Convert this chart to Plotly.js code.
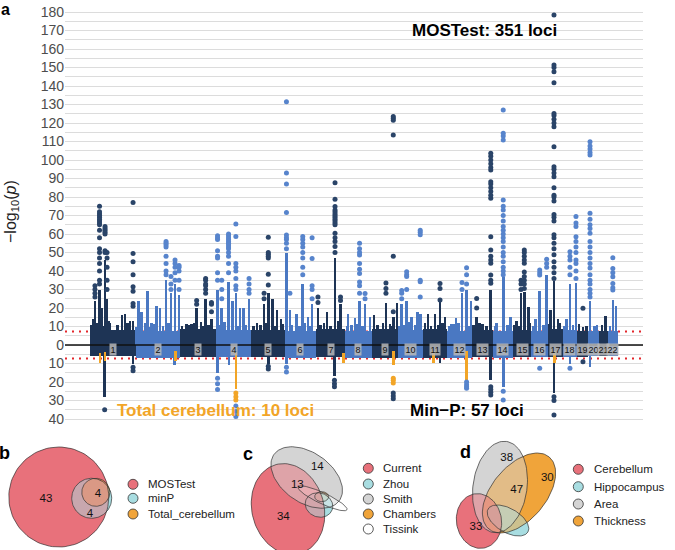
<!DOCTYPE html>
<html><head><meta charset="utf-8">
<script src="https://cdn.plot.ly/plotly-3.0.1.min.js"></script>
<style>html,body{margin:0;padding:0;background:#fff}</style>
</head><body><div id="chart" style="width:675px;height:550px"></div>
<script>
// ---------------- DATA ----------------
const chrNames = ['1','2','3','4','5','6','7','8','9','10','11','12','13','14','15','16','17','18','19','20','21','22'];
const chrLen = [249,243,198,191,181,171,159,146,141,136,135,134,115,107,103,90,81,78,59,63,48,51];
// dense background band (-log10 p) above (MOSTest) and below (min-P)
const bandUp   = [8,7.5,8.5,8,8,7.5,8.5,7.5,8.5,8,8.5,7.5,8,7.5,8,7.5,8.5,8,7.5,7.5,7.5,7.5];
const bandDown = [6,7,6.5,6.5,6.5,7,6.5,7,7,7,7,7,6.5,7,6.5,6.5,6.5,6.5,6.5,6,6,6];

// MOSTest dense columns: chromosome, position (Mb), top of dense part
const upColChr = [1,1,1,1,1,1,1,1,1,1,1, 2,2,2,2,2,2,2,2,2,2, 3,3,3,3,3,3, 4,4,4,4,4,4,4,4, 5,5,5,5,5,5, 6,6,6,6,6,6, 7,7,7,7, 8,8,8,8,8, 9,9,9,9,9, 10,10,10,10,10, 11,11,11,11, 12,12,12,12,12, 13,13,13, 14,14,14, 15,15,15,15, 16,16,16, 17,17,17, 18,18,18, 19, 20, 21, 22,22];
const upColPos = [16,27,52,63,82,93,109,175,191,218,235, 15,33,65,87,115,133,166,193,215,237, 34,63,90,114,139,171, 6,29,66,88,106,129,147,178, 31,69,92,115,140,162, 10,29,65,99,128,150, 11,60,104,134, 17,54,79,109,136, 12,77,99,117,138, 22,49,76,108,123, 29,68,95,122, 20,47,80,105,129, 26,58,103, 20,56,95, 22,46,64,86, 22,45,83, 15,33,56, 21,39,72, 32, 11.5, 33, 25,43];
const upColTop = [14,24,30,20,46,25,12,16,17,13,13, 24,18,29,12,21,20,35,28,33,27, 11.5,11.5,20,12.5,25,14, 30,20,34,24,28,20,20,25, 12,22,28,25,19,14, 49.5,19,17,33,15,22, 20,18,47,22, 17,14.4,24,22,15, 16,22.5,11.5,15,22.5, 22,24,15.3,18,17, 17,17,23.4,15, 11.5,14.4,28,30,24, 15,11.5,29.7, 12,37,15.3, 13,28,28.8,20.7, 14,29,38, 19,34.6,14, 14,33,33.5, 10, 24, 15.7, 24.3,21];

// extra low spikes that make the ragged top of the band (chromosome, position Mb, height)
const lowSpkChr = [1,1,1,1,1,1, 2,2,2,2,2,2,2, 3,3,3,3,3, 4,4,4,4, 5,5,5,5,5, 6,6,6,6, 7,7,7,7, 8,8,8,8, 9,9,9, 10,10,10,10, 11,11,11,11, 12,12,12,12, 13,13,13, 14,14, 15,15,15, 16,16, 17,17, 18,18, 19,19, 20,20, 21, 22];
const lowSpkPos = [5,40,70,100,150,205, 5,25,50,75,100,150,180, 10,50,75,125,155, 20,45,120,160, 10,50,80,125,170, 40,80,110,140, 25,45,80,120, 10,35,65,95, 30,60,105, 8,35,65,95, 12,45,85,110, 10,35,60,118, 10,40,80, 10,80, 10,35,95, 10,65, 5,65, 10,55, 10,50, 35,50, 15, 10];
const lowSpkTop = [11,12,10.5,13,11,12, 10,11,12,10,11.5,10.5,12, 10.5,11,12,10.5,11, 11,12.5,10.5,11, 10.5,11,12,10.5,11.5, 11,10.5,12,10.5, 11,12,10.5,13, 10.5,11,11.5,10.5, 11,12,10.5, 10.5,11,12.5,11, 12,10.5,11,12, 10.5,11.5,12,10.5, 11,12,10.5, 10.5,11, 11,10.5,12, 10.5,11, 11.5,12, 10.5,11, 11.5,10.5, 10.5,11, 11, 10.5];

// MOSTest sparse hits: chromosome, position (Mb), list of -log10 p values
const upHitChr = [1,1,1,1,1, 2,2,2,2, 3,3,3, 4,4,4,4,4, 5,5, 6,6,6,6, 7,7,7, 8,8, 9,9, 10,10,10, 11, 12,12, 13,13, 14, 15,15, 16,16, 17, 18,18, 19, 20, 22];
const upHitPos = [27,52,82,93,235, 166,193,215,237, 90,139,171, 6,29,66,106,178, 69,92, 10,29,99,150, 11,104,134, 79,109, 77,117, 22,49,123, 95, 80,105, 26,103, 56, 46,64, 45,83, 33, 39,72, 32, 11.5, 25];
const upHitVals = [
  [26,28,30,32],
  [33,35,40,44,47,50,52,58,62,65,66,67,68,69,70,71,72,75],
  [50,51,60,61,62,63,64],
  [30,35,42,47,50],
  [21,22.5,29,31.5,38,45,49.5,77],
  [38,40,44,48,53,54,55,56],
  [30,33,37],
  [35,39,42,44,46],
  [30,35,40,42,43],
  [22,24],
  [28,30,32,33,35,36],
  [18,22,23],
  [35,39,47,48,51,57,58,59],
  [25,30,35],
  [39,44,48,50,52,53,54,55,56,57,58,59,60],
  [30,32,36,40,42,44,58.6,65.4],
  [28,30,33,36],
  [25,28],
  [32.4,38.3,47,48,49,50,58.2],
  [52,55,57,58,59.5,71.6,87,93,131.5],
  [28],
  [38,42,47,50,53,55,57,58.6],
  [25,30,32,46.7,58],
  [23,26],
  [50,53.2,56,58,60.4,65,66,67,68,69,70,71,72,73,74.9,78.8,87.7],
  [24,26],
  [28,32,34,38.7,41,44,48.6,50,52,55],
  [25,27.9],
  [28,30.5,33.5],
  [18,48,113.5,121.5,122.5,123.5],
  [25,28,29.5],
  [30,37,38,39.6],
  [26,34.2,35,59.6,61,62],
  [24.3,30.6,33.3],
  [30,33.8],
  [33,38,41.8],
  [20,25.2],
  [33.4,35,37.8,44.2,46,48,51.4,58.5,79.3,81,83,85,87,88.3,94.6,96,98,100,102,103.6],
  [38,40,42,45,48,50,53,56,58,60,62,64,67,70,73,75,78.4,110.8,113,114.4,127],
  [30,33,35],
  [30.6,33,35,37,39.5,44.2,46,48,50,51.4],
  [37.8,39,40.5],
  [42,44,46.3],
  [36,39,42,45,48.8,52,55,58,59.6,67,69,70.5,77.8,80,81,85,91,93,95,96.4,107.2,118,120,122,124,125.2,141.8,147.7,150,151.4,178.4],
  [38,42,46,48,50.4],
  [36,40,44,46,50,53,56,58.5,64,66,69.4],
  [19.8],
  [26,28,30,33,35,38,41.6,44,47,50,53,56,60.4,63,65,68,71.2,102.7,104,106,107.5,109.9],
  [29.7,31,33.3,36.9,39,41.4,47.2]
];

// Min-P dense columns (depth below zero)
const dnColChr = [1,1,2,4,4,5,6,7,11,13,14,17,18,20];
const dnColPos = [80,235,211,6,69,92,10,101,95,103,56,33,39,11.5];
const dnColDepth = [28,10,11,15,11,10,10,17,9.7,19,22.5,26,10,11.7];
// Min-P sparse hits
const dnHitChr = [1,1,4,4,5,6,7,9,12,13,14,16,17,18,19];
const dnHitPos = [80,235,6,106,92,10,101,117,105,103,56,45,33,39,32];
const dnHitVals = [[35],[12,13.9],[18,21,24],[33,36,38.7],[11.5,13],[12,14.6],[19,21,22.5],[26,27.5,29],[20,21.5,22.5,23.4],[22.5,24,25.5,27],[25,29.7],[12.6],[28,30,37.8],[12.6],[9]];

// Total cerebellum loci (orange, drawn on the Min-P side)
const cbChr  = [1,1,2,4,7,9,11,12,17];
const cbPos  = [55,82,218,106,150,117,59,105,36];
const cbFrom = [4.5,3.6,3.5,3.6,4.5,3,3.5,3,3];
const cbTo   = [9.7,8.6,8.6,24,9.7,10.8,9.7,19,9.9];
const cbHitChr = [4,9];
const cbHitPos = [106,117];
const cbHitVals = [[26,28,29.7],[18,19,20.5]];

const gwThreshold = -Math.log10(5e-8);
const yTickVals = [-40,-35,-30,-25,-20,-15,-10,-5,0,5,10,15,20,25,30,35,40,45,50,55,60,65,70,75,80,85,90,95,100,105,110,115,120,125,130,135,140,145,150,155,160,165,170,175,180];

// Venn data
const vennBSets = ['MOSTest','minP','Total_cerebellum'];
const vennBCounts = [43,4,4];
const vennCSets = ['Current','Zhou','Smith','Chambers','Tissink'];
const vennCCounts = [34,13,14];
const vennDSets = ['Cerebellum','Hippocampus','Area','Thickness'];
const vennDCounts = [33,38,47,30];

// ---------------- STYLE / LAYOUT ----------------
const DARK = '#1e3455', LIGHT = '#4a78c2', CB = '#f2a527';
const DARKDOT = '#2a4468', LIGHTDOT = '#5784cc';
const RED = '#E8717B', CYAN = '#A8DDE1', GREY = '#D4D4D4', VOR = '#F0A43A', WHITE = '#FFFFFF';
const FONT = 'Liberation Sans, Arial, sans-serif';
const W = 675, H = 550;
const px = x => x / W, py = y => 1 - y / H;

const chrStart = []; let acc = 0; chrLen.forEach(l => { chrStart.push(acc); acc += l; });
const gx = (c, p) => chrStart[c - 1] + p;
const cCol = c => (c % 2 === 1 ? DARK : LIGHT);
const cDot = c => (c % 2 === 1 ? DARKDOT : LIGHTDOT);
const XR = [-136.4, 3017.7];

const traces = [];
// band
traces.push({type:'bar', x: chrLen.map((l,i)=>chrStart[i]+l/2), y: chrLen.map((l,i)=>bandUp[i]+bandDown[i]),
  base: bandDown.map(v=>-v), width: chrLen.slice(), marker:{color: chrLen.map((l,i)=>cCol(i+1)), line:{width:0}},
  hoverinfo:'skip', showlegend:false});
// low spikes (ragged band edge)
traces.push({type:'bar', x: lowSpkChr.map((c,i)=>gx(c,lowSpkPos[i])), y: lowSpkTop.slice(), base: lowSpkTop.map(()=>0),
  width: lowSpkTop.map(()=>14), marker:{color: lowSpkChr.map(cCol), line:{width:0}}, hoverinfo:'skip', showlegend:false});
// up columns
traces.push({type:'bar', x: upColChr.map((c,i)=>gx(c,upColPos[i])), y: upColTop.slice(), base: upColTop.map(()=>0),
  width: upColTop.map(()=>14), marker:{color: upColChr.map(cCol), line:{width:0}}, hoverinfo:'skip', showlegend:false});
// down columns
traces.push({type:'bar', x: dnColChr.map((c,i)=>gx(c,dnColPos[i])), y: dnColDepth.map(v=>-v), base: dnColDepth.map(()=>0),
  width: dnColDepth.map(()=>14), marker:{color: dnColChr.map(cCol), line:{width:0}}, hoverinfo:'skip', showlegend:false});
// hits
const hx=[], hy=[], hc=[];
upHitChr.forEach((c,i)=>upHitVals[i].forEach(v=>{hx.push(gx(c,upHitPos[i])); hy.push(v); hc.push(cDot(c));}));
dnHitChr.forEach((c,i)=>dnHitVals[i].forEach(v=>{hx.push(gx(c,dnHitPos[i])); hy.push(-v); hc.push(cDot(c));}));
traces.push({type:'scatter', mode:'markers', x:hx, y:hy, marker:{size:5, color:hc, line:{width:0}}, hoverinfo:'skip', showlegend:false, cliponaxis:false});
// cerebellum
traces.push({type:'bar', x: cbChr.map((c,i)=>gx(c,cbPos[i])), y: cbTo.map((t,i)=>-(t-cbFrom[i])), base: cbFrom.map(v=>-v),
  width: cbChr.map(()=>14), marker:{color: CB, line:{width:0}}, hoverinfo:'skip', showlegend:false});
const ox=[], oy=[];
cbHitChr.forEach((c,i)=>cbHitVals[i].forEach(v=>{ox.push(gx(c,cbHitPos[i])); oy.push(-v);}));
traces.push({type:'scatter', mode:'markers', x:ox, y:oy, marker:{size:5, color:CB}, hoverinfo:'skip', showlegend:false});
// zero line on top
traces.push({type:'scatter', mode:'lines', x:XR, y:[0,0], line:{color:'#111', width:1.6}, hoverinfo:'skip', showlegend:false});

// ---- Venn geometry (pixel coordinates) ----
function ellPts(e){ const xs=[], ys=[]; const th=e.t*Math.PI/180;
  for(let k=0;k<=100;k++){ const t=2*Math.PI*k/100;
    xs.push(e.cx + e.a*Math.cos(t)*Math.cos(th) - e.b*Math.sin(t)*Math.sin(th));
    ys.push(e.cy + e.a*Math.cos(t)*Math.sin(th) + e.b*Math.sin(t)*Math.cos(th)); }
  return [xs,ys]; }
function hexA(h,a){ const r=parseInt(h.slice(1,3),16), g=parseInt(h.slice(3,5),16), b=parseInt(h.slice(5,7),16); return `rgba(${r},${g},${b},${a})`; }
function venn(ells, cols){
  const pts = ells.map(ellPts);
  pts.forEach((p,i)=>traces.push({type:'scatter', mode:'lines', x:p[0], y:p[1], fill:'toself', fillcolor:cols[i], line:{width:0}, xaxis:'x2', yaxis:'y2', hoverinfo:'skip', showlegend:false}));
  for(let i=pts.length-1;i>=0;i--) traces.push({type:'scatter', mode:'lines', x:pts[i][0], y:pts[i][1], fill:'toself', fillcolor:hexA(cols[i],0.5), line:{width:0}, xaxis:'x2', yaxis:'y2', hoverinfo:'skip', showlegend:false});
  pts.forEach(p=>traces.push({type:'scatter', mode:'lines', x:p[0], y:p[1], line:{width:0.7, color:'#333'}, xaxis:'x2', yaxis:'y2', hoverinfo:'skip', showlegend:false}));
}
const geoB = [{cx:58.8,cy:497,a:50,b:50,t:0},{cx:91.7,cy:498.3,a:20,b:20,t:0},{cx:95.8,cy:492.3,a:14,b:14,t:0}];
const geoC = [{cx:288,cy:509,a:36,b:46,t:-15},{cx:319,cy:505,a:14,b:12,t:20},{cx:306.7,cy:477.5,a:40,b:25,t:35},{cx:321.7,cy:496.7,a:7,b:5,t:0},{cx:322.5,cy:498.3,a:27,b:5.5,t:25}];
const geoD = [{cx:479,cy:521,a:22.5,b:27.5,t:-10},{cx:508,cy:520.5,a:23,b:12,t:30},{cx:500,cy:487,a:27,b:46,t:8},{cx:519,cy:493,a:47,b:27,t:-50}];
venn(geoB, [RED,CYAN,VOR]);
venn(geoC, [RED,CYAN,GREY,VOR,WHITE]);
venn(geoD, [RED,CYAN,GREY,VOR]);
// counts
const cntPosB = [[46,499.5],[98,494],[90,514]];
const cntPosC = [[283.3,517.3],[297.3,485],[317.3,467.3]];
const cntPosD = [[476,526.7],[506.7,457.7],[516.7,490],[547.3,478.3]];
const cx=[], cy=[], ct=[];
[[cntPosB,vennBCounts],[cntPosC,vennCCounts],[cntPosD,vennDCounts]].forEach(([pp,cc])=>cc.forEach((v,i)=>{cx.push(pp[i][0]); cy.push(pp[i][1]); ct.push(String(v));}));
traces.push({type:'scatter', mode:'text', x:cx, y:cy, text:ct, textposition:'middle center', textfont:{family:FONT,size:11.5,color:'#111'}, xaxis:'x2', yaxis:'y2', hoverinfo:'skip', showlegend:false});
// legends
const legs = [
  {sets:vennBSets, cols:[RED,CYAN,VOR], mx:133, tx:146, ys:[484.3,498.3,514]},
  {sets:vennCSets, cols:[RED,CYAN,GREY,VOR,WHITE], mx:368.3, tx:380.5, ys:[468.3,484,499,514,529]},
  {sets:vennDSets, cols:[RED,CYAN,GREY,VOR], mx:578.3, tx:592, ys:[469.3,486.7,504,521]}
];
const annotations = [];
legs.forEach(L=>{
  traces.push({type:'scatter', mode:'markers', x:L.ys.map(()=>L.mx), y:L.ys.slice(), marker:{size:10, color:L.cols, line:{width:0.8,color:'#333'}}, xaxis:'x2', yaxis:'y2', hoverinfo:'skip', showlegend:false, cliponaxis:false});
  L.sets.forEach((s,i)=>annotations.push({xref:'paper', yref:'paper', x:px(L.tx), y:py(L.ys[i]), xanchor:'left', yanchor:'middle', text:s, showarrow:false, font:{family:FONT,size:11.5,color:'#222'}}));
});

// chromosome labels
chrNames.forEach((n,i)=>annotations.push({xref:'x', yref:'y', x:chrStart[i]+chrLen[i]/2, y:-2.2, text:n, showarrow:false,
  font:{family:FONT,size:9,color:'#111'}, bgcolor:'rgba(185,185,185,0.85)', borderpad:0.5, xanchor:'center', yanchor:'middle'}));
// titles
const ann = (x,y,t,f,extra) => annotations.push(Object.assign({xref:'paper', yref:'paper', x:px(x), y:py(y), text:t, showarrow:false, xanchor:'center', yanchor:'middle', font:f}, extra||{}));
ann(484, 30, '<b>MOSTest: 351 loci</b>', {family:FONT,size:17,color:'#000'});
ann(467.5, 410, '<b>Min\u2212P: 57 loci</b>', {family:FONT,size:17,color:'#000'});
ann(215.8, 410, '<b>Total cerebellum: 10 loci</b>', {family:FONT,size:17,color:CB});
ann(11, 212, '\u2212log<sub>10</sub>(<i>p</i>)', {family:FONT,size:16,color:'#222'}, {textangle:-90});
annotations.push({xref:'paper', yref:'paper', x:0, y:1, xanchor:'left', yanchor:'top', text:'<b>a</b>', showarrow:false, font:{family:FONT,size:16,color:'#000'}, borderpad:0});
[['b',4,453],['c',247.7,453.7],['d',465,452]].forEach(([t,x,y])=>ann(x,y,'<b>'+t+'</b>',{family:FONT,size:18,color:'#000'}));

const layout = {
  width: W, height: H, margin:{l:0,r:0,t:0,b:0}, paper_bgcolor:'#fff', plot_bgcolor:'rgba(0,0,0,0)',
  barmode:'overlay', bargap:0, showlegend:false, font:{family:FONT},
  xaxis:{domain:[px(65), px(643)], range:XR, showgrid:false, zeroline:false, showticklabels:false, ticks:'', fixedrange:true},
  yaxis:{domain:[(H-420.85)/H, (H-8.3)/H], range:[-41,182], tickmode:'array', tickvals:yTickVals,
    ticktext: yTickVals.map(v => v%10===0 ? String(Math.abs(v)) : ''), showgrid:true, gridcolor:'#dcdcdc', gridwidth:1,
    zeroline:false, ticks:'', tickfont:{family:FONT,size:14,color:'#4d4d4d'}, showline:false},
  xaxis2:{domain:[0,1], range:[0,W], visible:false, anchor:'y2', fixedrange:true},
  yaxis2:{domain:[0,0.25], range:[H, H-0.25*H], visible:false, anchor:'x2', fixedrange:true},
  shapes:[
    {type:'line', xref:'paper', yref:'y', x0:px(65), x1:px(643), y0:gwThreshold, y1:gwThreshold, line:{color:'#e3262b', width:2, dash:'2px,5px'}, layer:'below'},
    {type:'line', xref:'paper', yref:'y', x0:px(65), x1:px(643), y0:-gwThreshold, y1:-gwThreshold, line:{color:'#e3262b', width:2, dash:'2px,5px'}, layer:'below'}
  ],
  annotations: annotations
};
Plotly.newPlot('chart', traces, layout, {staticPlot:true, displayModeBar:false});
</script></body></html>
